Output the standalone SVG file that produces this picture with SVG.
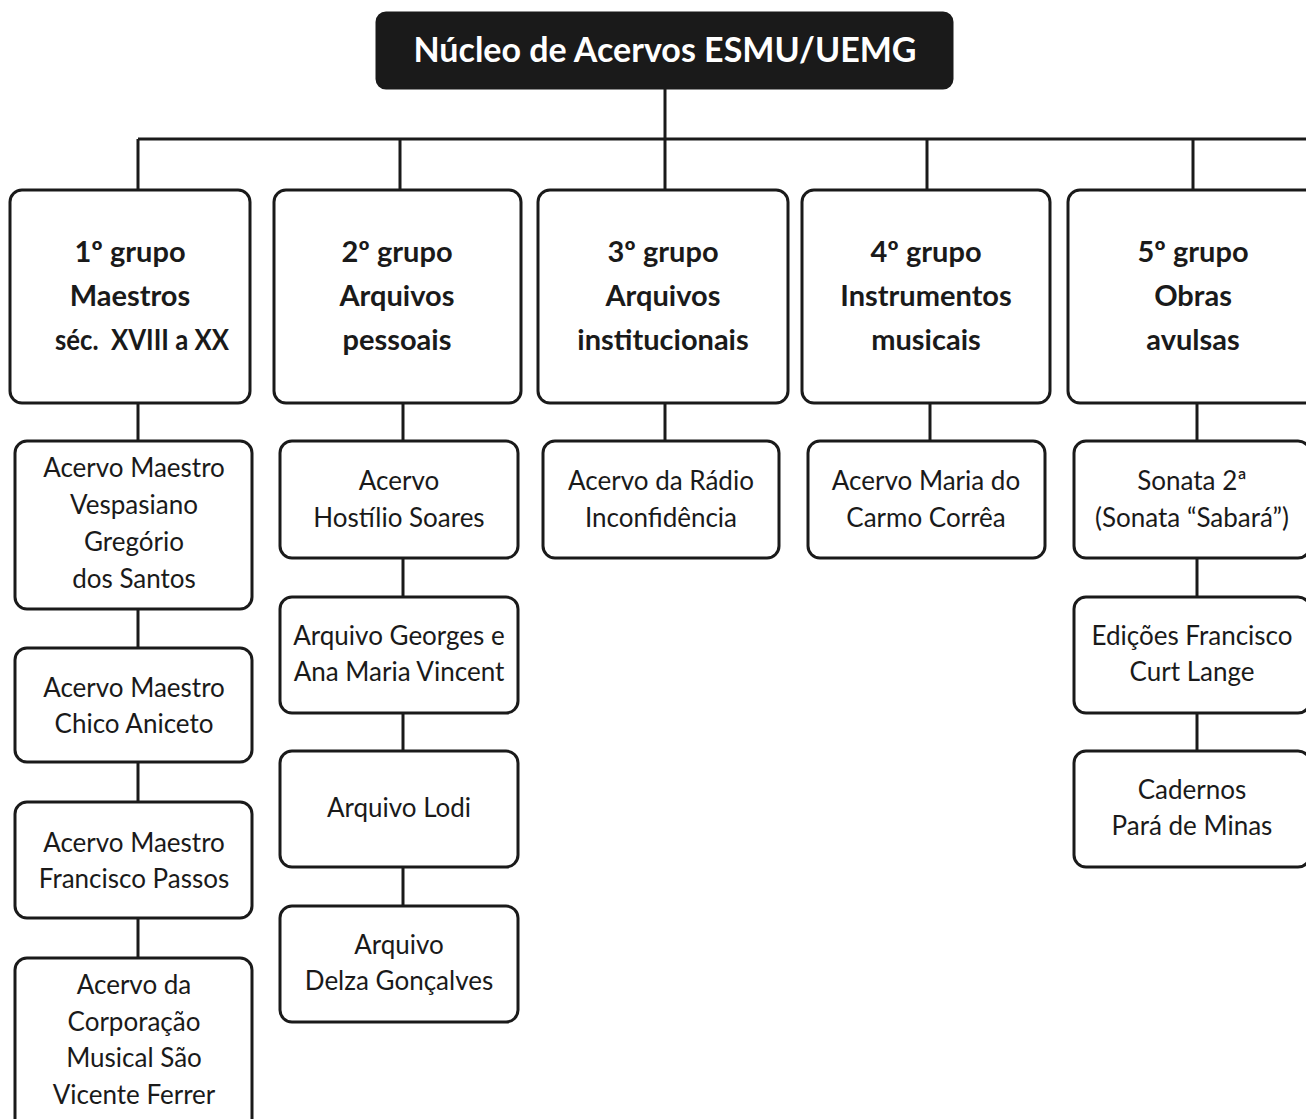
<svg xmlns="http://www.w3.org/2000/svg" width="1306" height="1119" viewBox="0 0 1306 1119">
<style>
.bx{fill:#fff;stroke:#1a1a1a;stroke-width:3}
.top{fill:#1a1a1a;stroke:#1a1a1a;stroke-width:3}
.ln{stroke:#1a1a1a;stroke-width:3;fill:none}
.g{font-family:Lato,"Liberation Sans",sans-serif;font-weight:bold;font-size:29px;fill:#1a1a1a;text-anchor:middle}
.c{font-family:Lato,"Liberation Sans",sans-serif;font-size:26px;fill:#1a1a1a;text-anchor:middle}
.t{font-family:Lato,"Liberation Sans",sans-serif;font-weight:bold;font-size:34px;fill:#fff;text-anchor:middle}
</style>
<rect width="1306" height="1119" fill="#fff"/>
<g id="connectors" class="ln">
<path d="M665 88V139M138 139H1306M138 139V190M400 139V190M665 139V190M927 139V190M1193 139V190"/>
<path d="M138 403V441M138 609V648M138 762V802M138 918V958"/>
<path d="M403 403V441M403 558V597M403 713V751M403 867V906"/>
<path d="M665 403V441"/>
<path d="M930 403V441"/>
<path d="M1197 403V441M1197 558V597M1197 713V751"/>
</g>
<g id="root"><rect class="top" x="377" y="13" width="575" height="75" rx="9"/><text class="t" x="665" y="62">Núcleo de Acervos ESMU/UEMG</text></g>
<g id="g1"><rect class="bx" x="10" y="190" width="240" height="213" rx="12"/><text class="g" x="130" y="262">1º grupo</text><text class="g" x="130" y="306">Maestros</text><text class="g" x="142" y="350" textLength="174" lengthAdjust="spacingAndGlyphs">séc.&#160; XVIII a XX</text></g>
<g id="g2"><rect class="bx" x="274" y="190" width="247" height="213" rx="12"/><text class="g" x="397" y="262">2º grupo</text><text class="g" x="397" y="306">Arquivos</text><text class="g" x="397" y="350">pessoais</text></g>
<g id="g3"><rect class="bx" x="538" y="190" width="250" height="213" rx="12"/><text class="g" x="663" y="262">3º grupo</text><text class="g" x="663" y="306">Arquivos</text><text class="g" x="663" y="350">institucionais</text></g>
<g id="g4"><rect class="bx" x="802" y="190" width="248" height="213" rx="12"/><text class="g" x="926" y="262">4º grupo</text><text class="g" x="926" y="306">Instrumentos</text><text class="g" x="926" y="350">musicais</text></g>
<g id="g5"><rect class="bx" x="1068" y="190" width="250" height="213" rx="12"/><text class="g" x="1193" y="262">5º grupo</text><text class="g" x="1193" y="306">Obras</text><text class="g" x="1193" y="350">avulsas</text></g>

<g id="c1a"><rect class="bx" x="15" y="441" width="237" height="168" rx="12"/><text class="c" x="134" y="477">Acervo Maestro</text><text class="c" x="134" y="514">Vespasiano</text><text class="c" x="134" y="551">Gregório</text><text class="c" x="134" y="588">dos Santos</text></g>
<g id="c1b"><rect class="bx" x="15" y="648" width="237" height="114" rx="12"/><text class="c" x="134" y="697">Acervo Maestro</text><text class="c" x="134" y="733">Chico Aniceto</text></g>
<g id="c1c"><rect class="bx" x="15" y="802" width="237" height="116" rx="12"/><text class="c" x="134" y="852">Acervo Maestro</text><text class="c" x="134" y="888">Francisco Passos</text></g>
<g id="c1d"><rect class="bx" x="15" y="958" width="237" height="175" rx="12"/><text class="c" x="134" y="994">Acervo da</text><text class="c" x="134" y="1031">Corporação</text><text class="c" x="134" y="1067">Musical São</text><text class="c" x="134" y="1104">Vicente Ferrer</text></g>

<g id="c2a"><rect class="bx" x="280" y="441" width="238" height="117" rx="12"/><text class="c" x="399" y="490">Acervo</text><text class="c" x="399" y="527">Hostílio Soares</text></g>
<g id="c2b"><rect class="bx" x="280" y="597" width="238" height="116" rx="12"/><text class="c" x="399" y="645">Arquivo Georges e</text><text class="c" x="399" y="681">Ana Maria Vincent</text></g>
<g id="c2c"><rect class="bx" x="280" y="751" width="238" height="116" rx="12"/><text class="c" x="399" y="817">Arquivo Lodi</text></g>
<g id="c2d"><rect class="bx" x="280" y="906" width="238" height="116" rx="12"/><text class="c" x="399" y="954">Arquivo</text><text class="c" x="399" y="990">Delza Gonçalves</text></g>

<g id="c3a"><rect class="bx" x="543" y="441" width="236" height="117" rx="12"/><text class="c" x="661" y="490">Acervo da Rádio</text><text class="c" x="661" y="527">Inconfidência</text></g>
<g id="c4a"><rect class="bx" x="808" y="441" width="237" height="117" rx="12"/><text class="c" x="926" y="490">Acervo Maria do</text><text class="c" x="926" y="527">Carmo Corrêa</text></g>

<g id="c5a"><rect class="bx" x="1074" y="441" width="236" height="117" rx="12"/><text class="c" x="1192" y="490">Sonata 2ª</text><text class="c" x="1192" y="527">(Sonata “Sabará”)</text></g>
<g id="c5b"><rect class="bx" x="1074" y="597" width="236" height="116" rx="12"/><text class="c" x="1192" y="645">Edições Francisco</text><text class="c" x="1192" y="681">Curt Lange</text></g>
<g id="c5c"><rect class="bx" x="1074" y="751" width="236" height="116" rx="12"/><text class="c" x="1192" y="799">Cadernos</text><text class="c" x="1192" y="835">Pará de Minas</text></g>
</svg>
